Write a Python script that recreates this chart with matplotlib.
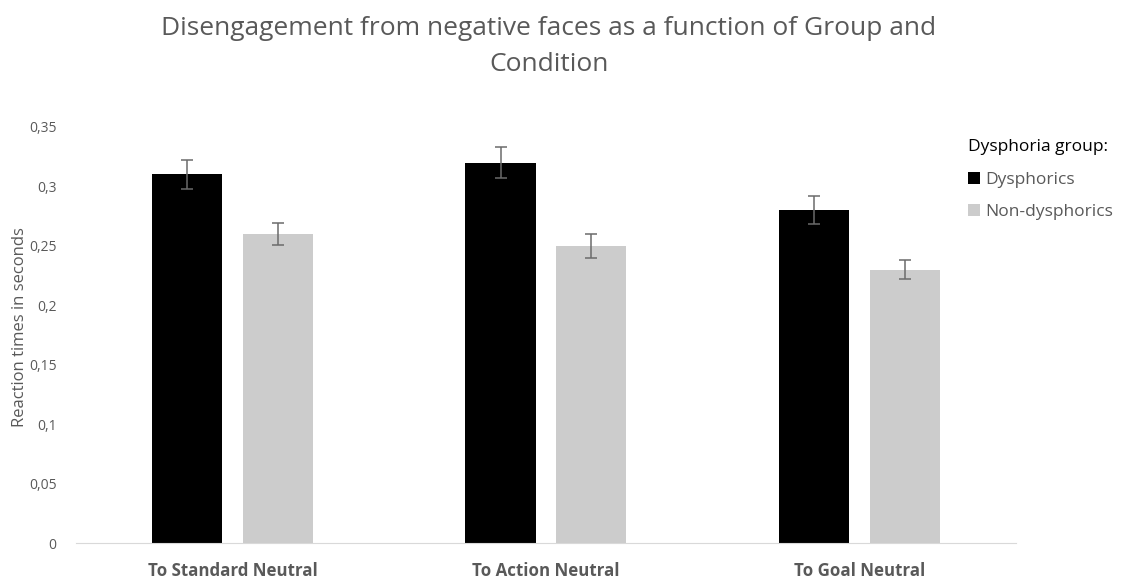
import matplotlib.pyplot as plt
import numpy as np
from matplotlib.ticker import FuncFormatter

categories = ["To Standard Neutral", "To Action Neutral", "To Goal Neutral"]
dysphorics = [0.31, 0.32, 0.28]
dysphorics_err = [0.012, 0.013, 0.012]
non_dysphorics = [0.26, 0.25, 0.23]
non_dysphorics_err = [0.009, 0.010, 0.008]
series_labels = ["Dysphorics", "Non-dysphorics"]
yticks = [0, 0.05, 0.1, 0.15, 0.2, 0.25, 0.3, 0.35]

plt.rcParams['font.family'] = ['Open Sans', 'DejaVu Sans']
fig = plt.figure(figsize=(11.32, 5.82), dpi=100)
ax = fig.add_axes([0.0671, 0.067, 0.8304, 0.715])

x = np.arange(len(categories))
w = 0.224
off = 0.145
errkw = dict(ecolor='#6b6b6b', elinewidth=1.1, capsize=4, capthick=1.1)
ax.bar(x - off, dysphorics, w, yerr=dysphorics_err, color='black', label=series_labels[0], error_kw=errkw)
ax.bar(x + off, non_dysphorics, w, yerr=non_dysphorics_err, color='#cccccc', label=series_labels[1], error_kw=errkw)

ax.set_xlim(-0.5, 2.5)
ax.set_ylim(0, 0.35)
ax.set_yticks(yticks)
ax.yaxis.set_major_formatter(FuncFormatter(lambda v, p: ('%g' % v).replace('.', ',')))
ax.set_xticks(x)
ax.set_xticklabels(categories, fontsize=12.2, fontweight='bold', color='#595959')
ax.tick_params(axis='y', length=0, labelsize=10, labelcolor='#595959', pad=14)
ax.tick_params(axis='x', length=0, pad=14)
for s in ['top', 'right', 'left']:
    ax.spines[s].set_visible(False)
ax.spines['bottom'].set_color('#d9d9d9')
ax.set_ylabel("Reaction times in seconds", fontsize=12, color='#595959')
ax.yaxis.set_label_coords(-0.051, 0.52)

fig.suptitle("Disengagement from negative faces as a function of Group and\nCondition",
             x=0.485, y=0.972, fontsize=19, color='#595959', linespacing=1.55)

handles, labels = ax.get_legend_handles_labels()
leg = fig.legend(handles, labels, title="Dysphoria group:", loc='upper left',
                 bbox_to_anchor=(0.849, 0.773), frameon=False, fontsize=12.5,
                 title_fontsize=12.5, handlelength=0.7, handleheight=0.7,
                 handletextpad=0.3, labelspacing=0.95, alignment='left', borderaxespad=0)
for t in leg.get_texts():
    t.set_color('#595959')
leg.get_title().set_color('black')

fig.savefig("out.png", dpi=100)
